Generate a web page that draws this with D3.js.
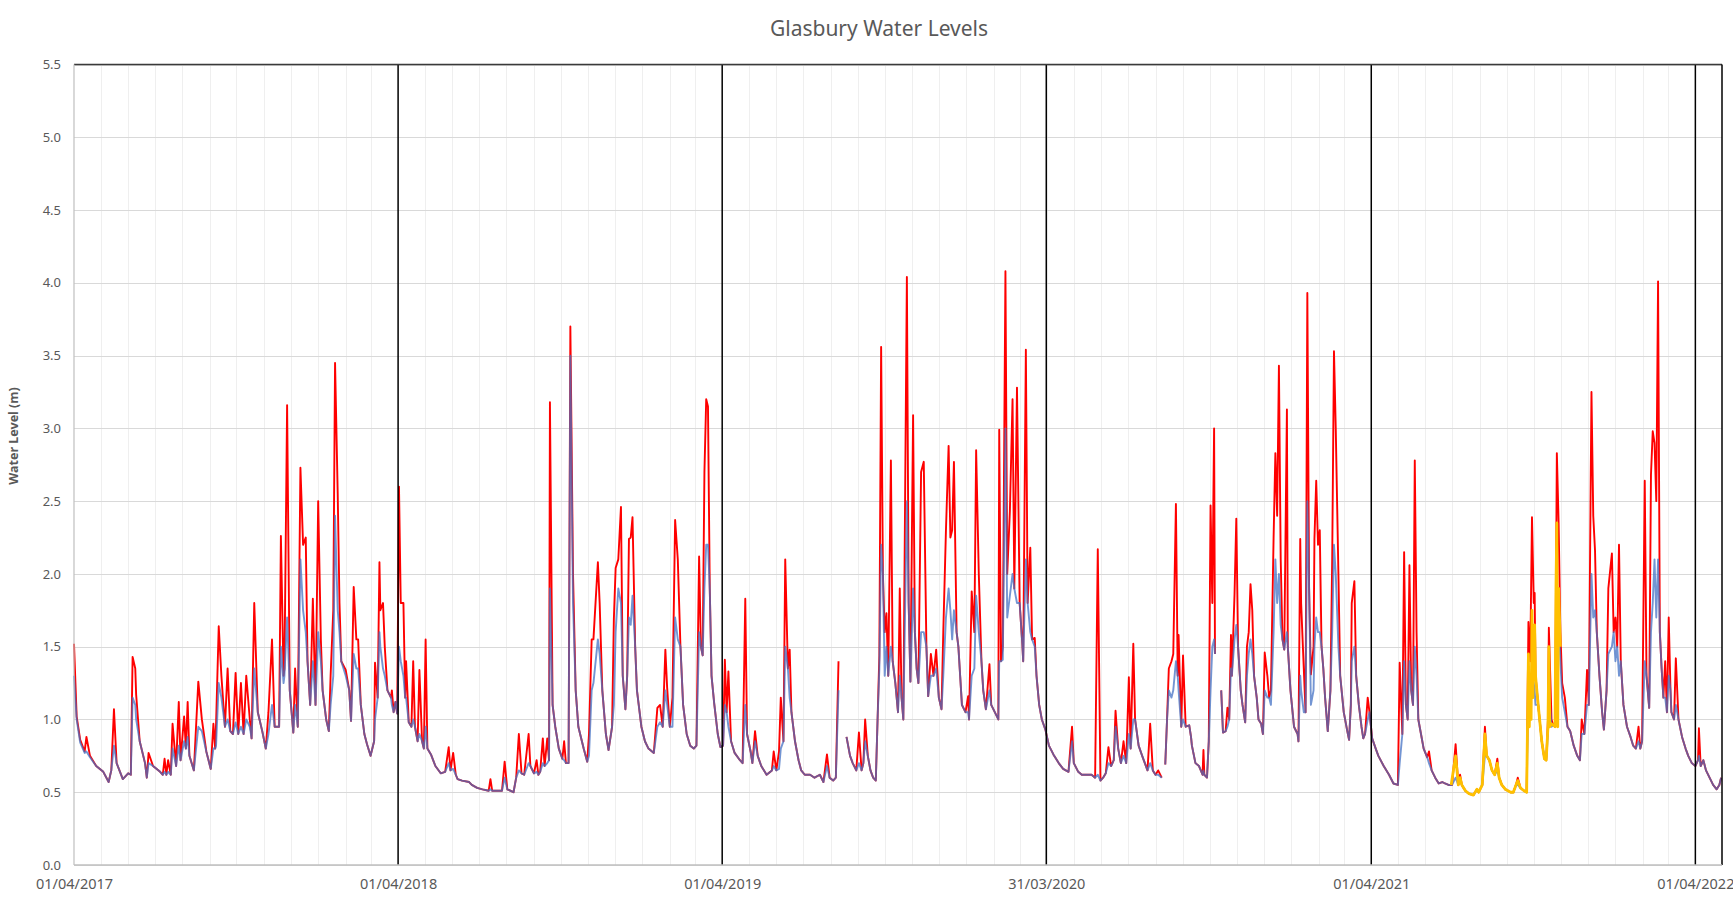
<!DOCTYPE html>
<html>
<head>
<meta charset="utf-8">
<script src="https://cdn.jsdelivr.net/npm/d3@7"></script>
<style>
  body { margin: 0; background: #fff; }
  text { font-family: "Segoe UI", "Noto Sans", sans-serif; }
</style>
</head>
<body>
<div id="chart"></div>
<script>
// days counted from 01/04/2017; [day, max, mean] (mean omitted = same as max, null = no data)
var startDay = "2017-04-01";
var endDay = "2022-05-01";
var tickDays = ["2017-04-01", "2018-04-01", "2019-04-01", "2020-03-31", "2021-04-01", "2022-04-01"];
var yTicks = [0, 0.5, 1, 1.5, 2, 2.5, 3, 3.5, 4, 4.5, 5, 5.5];

var readings = [
[0,1.52,1.30],[3,1.02,1.0],[7,0.86,0.84],[12,0.78,0.77],[14,0.88,0.78],[18,0.75,0.74],[25,0.68],[33,0.64],[39,0.57],[42,0.65],[45,1.07,0.82],[48,0.70],[55,0.59],[61,0.63],[64,0.62],[66,1.43,1.15],[69,1.35,1.10],[70,1.17,1.0],[74,0.85],[80,0.70],[82,0.60],[84,0.77,0.70],[89,0.68],[97,0.64],[100,0.62],[102,0.73,0.64],[104,0.62],[106,0.72,0.64],[109,0.62],[111,0.97,0.80],[115,0.68],[118,1.12,0.82],[120,0.72],[124,1.02,0.85],[126,0.80],[128,1.12,0.88],[130,0.75],[135,0.65],[140,1.26,0.95],[144,1.0,0.92],[149,0.78],[154,0.66],[157,0.97,0.80],[159,0.80],[160,0.97,0.82],[163,1.64,1.25],[166,1.30,1.15],[170,0.95],[173,1.35,1.0],[176,0.92],[179,0.90],[182,1.32,0.98],[185,0.90],[188,1.25,0.95],[191,0.90],[194,1.30,1.0],[198,1.0,0.95],[200,0.87],[203,1.80,1.35],[207,1.05],[212,0.92],[216,0.80],[219,1.05,0.90],[223,1.55,1.10],[226,0.95],[231,0.95],[233,2.26,1.50],[236,1.30,1.25],[237,1.35,1.30],[240,3.16,1.70],[243,1.20],[247,0.91],[249,1.35,1.10],[252,0.95],[255,2.73,2.10],[258,2.20,1.75],[261,2.25,1.60],[263,1.40],[266,1.10],[269,1.83,1.40],[272,1.10],[275,2.50,1.60],[278,1.55,1.40],[280,1.20],[284,1.00],[287,0.92],[289,1.30,1.10],[292,1.75,1.30],[294,3.45,2.40],[297,2.55,1.75],[299,1.80,1.60],[301,1.40],
[306,1.34,1.30],[310,1.20],[312,0.99],[315,1.91,1.45],[318,1.55,1.35],[320,1.55,1.35],[323,1.10],[327,0.90],[330,0.83],[334,0.75],[338,0.85],[339,1.39,1.0],[342,1.15],[344,2.08,1.60],[345,1.75,1.50],[348,1.80,1.35],[350,1.50,1.30],[353,1.20],[357,1.15],[358,1.20,1.10],[360,1.05],[362,1.12],[364,1.04],[366,2.60,1.50],[368,1.80,1.40],[371,1.80,1.30],[373,1.15],[374,1.40,1.15],[377,0.98],[380,0.95],[382,1.40,1.0],[384,0.95],[387,0.85],[389,1.34,0.90],[392,0.85],[394,0.80],[396,1.55,0.95],[398,0.80],[402,0.76],[407,0.68],[413,0.63],[418,0.64],[422,0.81,0.70],[424,0.65],[427,0.77,0.66],[430,0.62],[432,0.59],[437,0.58],[445,0.57],[448,0.55],[454,0.53],[460,0.52],[467,0.51],[469,0.59,0.52],[471,0.51],[482,0.51],[485,0.71,0.60],[488,0.52],[495,0.50],[498,0.60],[501,0.90,0.65],[504,0.63],[507,0.62],[512,0.90,0.70],[514,0.68],[518,0.63],[521,0.72,0.64],[523,0.62],[525,0.64],[528,0.87,0.70],[530,0.68],[533,0.87,0.70],[535,0.72],[536,3.18,1.90],[539,1.10],[542,0.95],[546,0.80],[550,0.73],[552,0.85,0.72],[554,0.70],[557,0.70],[559,3.70,3.50],[562,2.0,1.80],[565,1.20],[568,0.95],[574,0.80],[578,0.71],[580,0.90,0.75],[583,1.55,1.20],[585,1.55,1.25],[590,2.08,1.55],[592,1.80,1.45],[595,1.20],[599,0.90],[602,0.79],[606,0.95],[608,1.69,1.10],[610,2.04,1.60],[613,2.10,1.90],[616,2.46,1.80],[618,1.30],[621,1.07],[623,1.30],[625,2.24,1.70],[627,2.25,1.65],[629,2.39,1.85],[632,1.50],[634,1.20],[636,1.10],[639,0.95],[643,0.85],[647,0.80],[653,0.77],[657,1.08,0.95],[660,1.10,0.98],[663,0.95],[666,1.48,1.20],[668,1.22,1.10],[671,0.95],[674,1.15,0.95],[677,2.37,1.70],[680,2.10,1.55],[683,1.50],[686,1.10],[690,0.90],[694,0.82],[698,0.80],[701,0.82],[704,2.12,1.60],[706,1.50],[708,1.44],[710,2.70,1.90],[712,3.20,2.20],[714,3.15,2.20],[716,1.90],[718,1.30],[721,1.11],[725,0.90],[728,0.81],
[731,0.82],[733,1.41,1.10],[735,1.05],[737,1.33,0.95],[740,0.85],[744,0.77],[750,0.72],[753,0.70],[756,1.83,1.10],[758,0.90],[762,0.78],[764,0.70],[767,0.92,0.85],[770,0.75],[774,0.68],[780,0.62],[786,0.65],[788,0.78,0.68],[791,0.65],[794,0.78,0.66],[796,1.15,0.80],[799,0.85],[801,2.10,1.50],[804,1.35],[806,1.48,1.15],[808,1.05],[812,0.85],[816,0.72],[819,0.65],[823,0.62],[829,0.62],[834,0.60],[840,0.62],[844,0.57],[848,0.76,0.68],[851,0.60],[855,0.58],[858,0.60],[861,1.40,1.20],[864,null],[870,0.88],[874,0.75],[877,0.70],[881,0.65],[884,0.91,0.70],[887,0.65],[889,0.70],[891,1.0,0.85],[894,0.75],[897,0.65],[900,0.60],[903,0.58],[905,1.0],[907,1.44,1.35],[909,3.56,2.20],[911,2.0],[913,1.60,1.30],[915,1.73,1.50],[917,1.30],[920,2.78,1.50],[922,1.40],[925,1.25],[928,1.05],[930,1.90,1.30],[932,1.15],[934,1.0],[938,4.04,2.50],[940,1.80],[942,1.26],[945,3.09,1.90],[947,1.60],[949,1.35],[951,1.25],[954,2.70,1.60],[957,2.77,1.60],[960,1.50],[962,1.16],[965,1.45,1.30],[968,1.30],[971,1.48,1.35],[974,1.15],[977,1.07],[979,1.60,1.30],[982,2.30,1.70],[985,2.88,1.90],[987,2.25,1.75],[989,2.30,1.55],[991,2.77,1.75],[994,1.60],[996,1.50],[998,1.30],[1000,1.10],[1004,1.05],[1007,1.16,1.05],[1008,1.0],[1011,1.88,1.30],[1014,1.60,1.35],[1016,2.85,1.85],[1019,2.0,1.60],[1022,1.40],[1024,1.20],[1027,1.07],[1031,1.38,1.20],[1033,1.10],[1037,1.05],[1041,1.0],[1042,2.99,1.40],[1044,1.40],[1046,1.50,1.41],[1049,4.08,3.0],[1051,2.0,1.70],[1054,2.43,1.85],[1057,3.20,2.0],[1059,1.90],[1062,3.28,1.80],[1065,1.80],[1068,1.52],[1069,1.40],[1072,3.54,2.10],[1074,1.80],[1077,2.18,1.60],[1079,1.55],[1082,1.56,1.50],[1084,1.30],[1087,1.10],[1090,1.0],[1094,0.93],
[1098,0.82],[1103,0.76],[1109,0.70],[1114,0.66],[1120,0.64],[1124,0.95,0.85],[1126,0.70],[1131,0.64],[1135,0.62],[1141,0.62],[1146,0.62],[1150,0.60],[1153,2.17,0.62],[1156,0.58],[1159,0.60],[1162,0.63],[1165,0.81,0.70],[1168,0.68],[1171,0.72],[1173,1.06,0.95],[1176,0.80],[1179,0.70],[1182,0.85,0.75],[1185,0.70],[1188,1.29,0.90],[1190,0.80],[1193,1.52,1.0],[1195,1.0],[1199,0.82],[1203,0.75],[1206,0.70],[1209,0.65],[1212,0.97,0.70],[1215,0.65],[1218,0.62],[1221,0.65,0.62],[1225,0.60],[1227,null],[1229,0.69],[1231,1.0],[1233,1.35,1.20],[1236,1.40,1.15],[1238,1.45,1.20],[1241,2.48,1.40],[1243,1.30],[1244,1.58,1.20],[1247,0.95],[1249,1.44,1.0],[1252,0.95],[1256,0.96],[1258,0.88],[1259,0.82],[1263,0.70],[1267,0.68],[1271,0.62],[1272,0.79,0.65],[1273,0.62],[1276,0.60],[1278,0.85],[1280,2.47,1.20],[1282,1.80,1.50],[1284,3.0,1.55],[1285,1.45],[1288,null],[1292,1.20],[1294,0.91],[1297,0.92],[1299,1.08,0.95],[1301,1.0],[1303,1.58,1.35],[1304,1.30],[1307,1.86,1.55],[1309,2.38,1.65],[1311,1.50],[1314,1.20],[1316,1.10],[1319,0.98],[1321,1.50,1.30],[1323,1.60,1.45],[1325,1.93,1.55],[1327,1.75,1.45],[1329,1.30],[1332,1.15],[1334,1.0],[1337,0.97],[1339,0.90],[1341,1.46,1.20],[1344,1.30,1.15],[1346,1.15],[1348,1.20,1.10],[1351,2.25,1.60],[1353,2.83,2.10],[1355,2.40,1.80],[1357,3.43,2.0],[1359,2.10,1.65],[1361,1.55],[1363,1.48],[1366,3.13,1.60],[1367,1.50],[1370,1.20],[1374,0.95],[1378,0.90],[1379,0.85],[1381,2.24,1.30],[1382,1.80,1.20],[1385,1.35,1.05],[1387,1.05],[1389,3.93,2.50],[1391,1.90],[1393,1.31,1.10],[1396,1.50,1.20],[1397,2.24,1.50],[1399,2.64,1.70],[1401,2.20,1.60],[1403,2.30,1.60],[1405,1.50],[1407,1.35],[1409,1.15],[1412,0.92],[1415,1.20],[1417,2.10,1.60],[1419,3.53,2.20],[1421,3.0,2.0],[1424,2.0,1.50],[1426,1.30],[1430,1.05],[1434,0.92],[1436,0.86],[1438,1.10],[1439,1.80,1.40],[1442,1.95,1.50],[1444,1.30],[1447,1.10],[1450,0.95],[1452,0.87],[1454,0.90],[1457,1.15,1.0],[1459,1.05],
[1462,0.87],[1466,0.80],[1469,0.75],[1475,0.68],[1481,0.62],[1486,0.56],[1491,0.55],[1493,1.39,0.70],[1496,0.90],[1498,2.15,1.40],[1500,1.10],[1502,1.0],[1504,2.06,1.40],[1506,1.20],[1508,1.10],[1510,2.78,1.50],[1512,1.60,1.30],[1514,1.0],[1517,0.90],[1520,0.80],[1524,0.74],[1526,0.78,0.70],[1529,0.65],[1533,0.60],[1537,0.56],[1541,0.57],[1544,0.56],[1548,0.55],[1552,0.55],[1556,0.83,0.60],[1559,0.55],[1561,0.62,0.58],[1563,0.55],[1567,0.51],[1571,0.49],[1576,0.48],[1580,0.52],[1582,0.50],[1586,0.55],[1589,0.95,0.75],[1591,0.75],[1594,0.72],[1597,0.65],[1600,0.62],[1603,0.73,0.65],[1605,0.60],[1608,0.55],[1612,0.52],[1618,0.50],[1621,0.50],[1624,0.55],[1626,0.60,0.55],[1629,0.53],[1633,0.51],[1636,0.50],[1638,1.67,1.20],[1640,1.40,1.10],[1642,2.39,1.30],[1644,1.80,1.25],[1645,1.87,1.20],[1646,1.30,1.10],[1649,1.10],[1653,0.85],[1656,0.73],[1658,0.72],[1660,1.0,0.90],[1661,1.63,1.20],[1664,1.0,0.95],[1666,0.96],[1668,0.95],[1670,2.83,1.80],[1672,2.35,1.70],[1674,1.60,1.40],[1676,1.25,1.15],[1679,1.15,1.05],[1682,0.95],[1685,0.92],[1689,0.82],[1693,0.75],[1696,0.72],[1698,1.0,0.90],[1701,0.90],[1704,1.34,1.10],[1706,1.10],[1709,3.25,2.0],[1711,2.40,1.70],[1713,2.16,1.75],[1715,1.60],[1718,1.30],[1721,1.05],[1723,0.93],[1726,1.20],[1728,1.90,1.45],[1732,2.14,1.50],[1734,1.60],[1736,1.70,1.40],[1738,1.50],[1740,2.20,1.30],[1742,1.40],[1745,1.10],[1749,0.95],[1753,0.88],[1756,0.82],[1759,0.80],[1762,0.95,0.85],[1764,0.80],[1766,0.85],[1769,2.64,1.40],[1771,1.30],[1774,1.08],[1776,2.68,1.60],[1778,2.98,1.80],[1780,2.90,2.10],[1782,2.50,1.70],[1784,4.01,2.10],[1786,1.60],[1788,1.35],[1790,1.15],[1792,1.40,1.15],[1794,1.05],[1796,1.70,1.30],[1798,1.20],[1799,1.05],[1802,1.0],[1804,1.42,1.10],[1807,1.0],[1811,0.88],[1815,0.80],[1818,0.75],[1822,0.70],[1826,0.68],[1829,0.72],[1830,0.94,0.75],[1832,0.68],[1835,0.72],[1838,0.65],[1842,0.60],[1846,0.55],[1850,0.52],[1853,0.55],[1855,0.60]
];

// highlighted low-flow period, summer 2021
var yellowReadings = [
[1551,0.55],[1556,0.75],[1559,0.55],[1561,0.60],[1563,0.55],[1567,0.51],[1571,0.49],[1576,0.48],[1580,0.52],[1582,0.50],[1586,0.55],[1589,0.90],[1591,0.75],[1594,0.72],[1597,0.65],[1600,0.62],[1603,0.70],[1605,0.60],[1608,0.55],[1612,0.52],[1618,0.50],[1621,0.50],[1624,0.55],[1626,0.58],[1629,0.53],[1633,0.51],[1636,0.50],[1638,1.45],[1639,0.95],[1640,1.30],[1641,1.0],[1642,1.75],[1643,1.15],[1644,1.55],[1645,1.65],[1646,1.30],[1649,1.10],[1653,0.85],[1656,0.73],[1658,0.72],[1660,0.95],[1661,1.50],[1662,0.95],[1664,0.97],[1666,0.96],[1668,0.95],[1669,1.90],[1670,2.35],[1671,0.95],[1672,1.90],[1674,1.50]
];

(function() {
    var width = 1733,
        height = 902;
    var left = 74, right = 1722, top = 64.5, bottom = 865;

    var parse = d3.utcParse("%Y-%m-%d");
    var start = parse(startDay),
        end = parse(endDay);

    var svg = d3.select("#chart")
        .append("svg")
        .attr("width", width)
        .attr("height", height)
        .style("background", "#fff");

    var x = d3.scaleUtc().domain([start, end]).range([left, right]);
    var y = d3.scaleLinear().domain([0, 5.5]).range([bottom, top]);

    var toDate = function(day) { return d3.utcDay.offset(start, day) };

    var rows = readings.map(function(r) {
        return {date: toDate(r[0]), max: r[1], mean: r[1] == null ? null : (r[2] == null ? r[1] : r[2])};
    });
    var yellow = yellowReadings.map(function(r) { return {date: toDate(r[0]), v: r[1]} });
    var ticks = tickDays.map(parse);

    // monthly gridlines
    svg.append("g")
        .selectAll("line")
        .data(d3.utcMonth.range(d3.utcMonth.offset(start, 1), end))
        .enter().append("line")
        .attr("x1", function(d) { return Math.round(x(d)) + 0.5 })
        .attr("x2", function(d) { return Math.round(x(d)) + 0.5 })
        .attr("y1", top)
        .attr("y2", bottom)
        .attr("stroke", "#efefef")
        .attr("stroke-width", 1)

    // horizontal gridlines
    svg.append("g")
        .selectAll("line")
        .data(yTicks)
        .enter().append("line")
        .attr("x1", left)
        .attr("x2", right)
        .attr("y1", function(d) { return Math.round(y(d)) + 0.5 })
        .attr("y2", function(d) { return Math.round(y(d)) + 0.5 })
        .attr("stroke", "#d9d9d9")
        .attr("stroke-width", 1)

    var maxLine = d3.line()
        .defined(function(d) { return d.max != null })
        .x(function(d) { return x(d.date) })
        .y(function(d) { return y(d.max) })

    var meanLine = d3.line()
        .defined(function(d) { return d.mean != null })
        .x(function(d) { return x(d.date) })
        .y(function(d) { return y(d.mean) })

    svg.append("path")
        .datum(rows)
        .attr("d", maxLine)
        .attr("fill", "none")
        .attr("stroke", "#ff0000")
        .attr("stroke-width", 1.9)
        .attr("stroke-linejoin", "round")

    svg.append("path")
        .datum(rows)
        .attr("d", meanLine)
        .attr("fill", "none")
        .attr("stroke", "#4472c4")
        .attr("stroke-opacity", 0.75)
        .attr("stroke-width", 1.9)
        .attr("stroke-linejoin", "round")

    svg.append("path")
        .datum(yellow)
        .attr("d", d3.line()
            .x(function(d) { return x(d.date) })
            .y(function(d) { return y(d.v) }))
        .attr("fill", "none")
        .attr("stroke", "#ffc000")
        .attr("stroke-width", 2.8)
        .attr("stroke-linejoin", "round")

    // year separators
    svg.append("g")
        .selectAll("line")
        .data(ticks.slice(1))
        .enter().append("line")
        .attr("x1", function(d) { return x(d) })
        .attr("x2", function(d) { return x(d) })
        .attr("y1", top)
        .attr("y2", bottom)
        .attr("stroke", "#000")
        .attr("stroke-width", 1.5)

    // frame
    svg.append("line").attr("x1", left).attr("x2", right).attr("y1", top).attr("y2", top)
        .attr("stroke", "#3a3a3a").attr("stroke-width", 1.5)
    svg.append("line").attr("x1", right).attr("x2", right).attr("y1", top).attr("y2", bottom)
        .attr("stroke", "#000").attr("stroke-width", 1.5)
    svg.append("line").attr("x1", left).attr("x2", left).attr("y1", top).attr("y2", bottom)
        .attr("stroke", "#bfbfbf").attr("stroke-width", 1.2)
    svg.append("line").attr("x1", left).attr("x2", right).attr("y1", bottom).attr("y2", bottom)
        .attr("stroke", "#bfbfbf").attr("stroke-width", 1.5)

    var yAxis = svg.append("g")
        .attr("transform", "translate(" + left + ",0)")
        .call(d3.axisLeft(y).tickValues(yTicks).tickFormat(d3.format(".1f")).tickSize(0).tickPadding(13))
    yAxis.select(".domain").remove()
    yAxis.selectAll("text").attr("fill", "#595959").style("font-size", "13px")

    var xAxis = svg.append("g")
        .attr("transform", "translate(0," + bottom + ")")
        .call(d3.axisBottom(x).tickValues(ticks).tickFormat(d3.utcFormat("%d/%m/%Y")).tickSize(0).tickPadding(14))
    xAxis.select(".domain").remove()
    xAxis.selectAll("text").attr("fill", "#595959").style("font-size", "14.5px")

    svg.append("text")
        .attr("x", 879)
        .attr("y", 36)
        .attr("text-anchor", "middle")
        .attr("fill", "#595959")
        .style("font-size", "21px")
        .text("Glasbury Water Levels")

    svg.append("text")
        .attr("transform", "translate(18,436) rotate(-90)")
        .attr("text-anchor", "middle")
        .attr("fill", "#595959")
        .style("font-size", "12.5px")
        .style("font-weight", "bold")
        .text("Water Level (m)")
})();
</script>
</body>
</html>
